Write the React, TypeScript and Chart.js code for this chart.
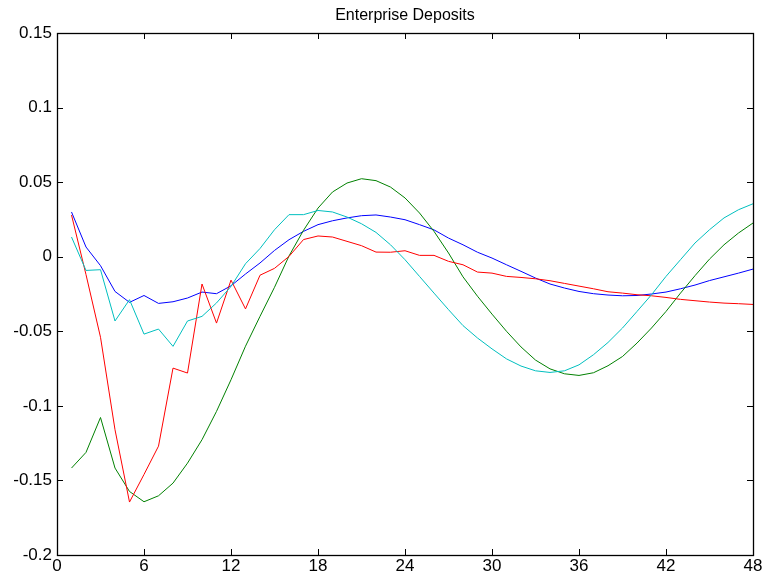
import React, { useEffect, useRef } from "react";
import { Chart, registerables } from "chart.js";

Chart.register(...registerables);

const TITLE = "Enterprise Deposits";

const months = [
  1, 2, 3, 4, 5, 6, 7, 8, 9, 10, 11, 12, 13, 14, 15, 16, 17, 18, 19, 20, 21, 22, 23, 24,
  25, 26, 27, 28, 29, 30, 31, 32, 33, 34, 35, 36, 37, 38, 39, 40, 41, 42, 43, 44, 45, 46, 47, 48,
];

const blueSeries = [
  0.030, 0.0065, -0.006, -0.0233, -0.0306, -0.026, -0.0313, -0.0302, -0.0277, -0.0237, -0.0248, -0.0195,
  -0.0116, -0.0042, 0.0042, 0.0114, 0.017, 0.0215, 0.0241, 0.026, 0.0275, 0.028, 0.0266, 0.0248,
  0.0215, 0.018, 0.0125, 0.008, 0.003, -0.0009, -0.0054, -0.0098, -0.0143, -0.0183, -0.021, -0.0233,
  -0.0248, -0.0257, -0.0262, -0.026, -0.025, -0.0237, -0.0215, -0.019, -0.016, -0.0135, -0.011, -0.0083,
];

const greenSeries = [
  -0.1417, -0.1312, -0.1078, -0.1417, -0.1574, -0.1643, -0.1603, -0.1518, -0.1384, -0.1227, -0.1037, -0.0825,
  -0.06, -0.04, -0.0205, 0.0005, 0.0177, 0.0326, 0.0434, 0.0494, 0.0523, 0.051, 0.0467, 0.0394,
  0.0293, 0.017, 0.0025, -0.0135, -0.0265, -0.0385, -0.05, -0.0605, -0.0693, -0.0752, -0.0785, -0.0796,
  -0.0778, -0.0731, -0.0669, -0.0579, -0.0478, -0.0367, -0.0244, -0.0127, -0.0016, 0.008, 0.0159, 0.0226,
];

const redSeries = [
  0.028, -0.012, -0.054, -0.116, -0.1645, -0.146, -0.127, -0.0747, -0.078, -0.0183, -0.0445, -0.0157,
  -0.035, -0.0124, -0.0078, 0.0002, 0.0115, 0.0139, 0.0132, 0.0103, 0.0074, 0.0031, 0.003, 0.004,
  0.0009, 0.0009, -0.0031, -0.0054, -0.0103, -0.011, -0.0132, -0.0139, -0.0148, -0.0161, -0.0179, -0.0197,
  -0.0215, -0.0235, -0.0244, -0.0255, -0.0262, -0.0273, -0.0286, -0.0295, -0.0304, -0.0311, -0.0315, -0.032,
];

const cyanSeries = [
  0.0132, -0.0092, -0.0087, -0.0431, -0.0288, -0.0519, -0.0485, -0.0601, -0.0431, -0.04, -0.031, -0.0199,
  -0.0047, 0.0055, 0.0181, 0.0282, 0.0282, 0.031, 0.03, 0.0266, 0.0221, 0.0163, 0.008, -0.002,
  -0.0132, -0.0244, -0.0355, -0.0462, -0.0545, -0.0618, -0.0685, -0.0733, -0.0765, -0.0776, -0.0765, -0.0725,
  -0.0657, -0.0575, -0.0478, -0.0367, -0.0255, -0.0132, -0.002, 0.0092, 0.0181, 0.026, 0.0315, 0.0355,
];

const xTicks = [0, 6, 12, 18, 24, 30, 36, 42, 48];
const yTicks = [-0.2, -0.15, -0.1, -0.05, 0, 0.05, 0.1, 0.15];

const FONT = "'Liberation Sans', Arial, sans-serif";

const boxPlugin = {
  id: "matlabBox",
  afterDraw(chart: any) {
    const { ctx, chartArea, scales } = chart;
    const { left, right, top, bottom } = chartArea;
    const tl = 6;
    ctx.save();
    ctx.strokeStyle = "#000";
    ctx.lineWidth = 1;
    ctx.beginPath();
    xTicks.forEach((v) => {
      const x = Math.round(scales.x.getPixelForValue(v)) + 0.5;
      ctx.moveTo(x, bottom);
      ctx.lineTo(x, bottom - tl);
      ctx.moveTo(x, top);
      ctx.lineTo(x, top + tl);
    });
    yTicks.forEach((v) => {
      const y = Math.round(scales.y.getPixelForValue(v)) + 0.5;
      ctx.moveTo(left, y);
      ctx.lineTo(left + tl, y);
      ctx.moveTo(right, y);
      ctx.lineTo(right - tl, y);
    });
    ctx.stroke();
    ctx.lineWidth = 1.3;
    ctx.strokeRect(Math.round(left) + 0.5, Math.round(top) + 0.5, Math.round(right - left), Math.round(bottom - top));
    // title centred over the plot box
    ctx.fillStyle = "#000";
    ctx.font = `16px ${FONT}`;
    ctx.textAlign = "center";
    ctx.textBaseline = "middle";
    ctx.fillText(TITLE, (left + right) / 2, 16);
    ctx.restore();
  },
};

function pts(arr: number[]) {
  return arr.map((v, i) => ({ x: months[i], y: v }));
}

export default function App() {
  const ref = useRef<HTMLCanvasElement | null>(null);
  useEffect(() => {
    const canvas = ref.current;
    if (!canvas) return;
    const mk = (data: number[], color: string, order: number) => ({
      data: pts(data),
      borderColor: color,
      backgroundColor: color,
      borderWidth: 1,
      pointRadius: 0,
      tension: 0,
      fill: false,
      order,
    });
    const chart = new Chart(canvas, {
      type: "line",
      data: {
        datasets: [
          mk(blueSeries, "#0000FF", 4),
          mk(greenSeries, "#008000", 3),
          mk(redSeries, "#FF0000", 2),
          mk(cyanSeries, "#00BFBF", 1),
        ],
      },
      options: {
        animation: false,
        responsive: false,
        maintainAspectRatio: false,
        layout: { padding: { left: 0, right: 13, top: 33, bottom: 0 } },
        plugins: {
          legend: { display: false },
          tooltip: { enabled: false },
          title: { display: false },
        },
        scales: {
          x: {
            type: "linear",
            min: 0,
            max: 48,
            afterFit: (s: any) => {
              s.height = 24;
            },
            afterBuildTicks: (s: any) => {
              s.ticks = xTicks.map((v) => ({ value: v }));
            },
            grid: { display: false, drawTicks: false },
            border: { display: false },
            ticks: {
              color: "#000",
              padding: 1,
              maxRotation: 0,
              autoSkip: false,
              font: { family: FONT, size: 17 },
              callback: (v: any) => String(v),
            },
          },
          y: {
            type: "linear",
            min: -0.2,
            max: 0.15,
            afterFit: (s: any) => {
              s.width = 57;
            },
            afterBuildTicks: (s: any) => {
              s.ticks = yTicks.map((v) => ({ value: v }));
            },
            grid: { display: false, drawTicks: false },
            border: { display: false },
            ticks: {
              color: "#000",
              padding: 5,
              autoSkip: false,
              font: { family: FONT, size: 17 },
              callback: (v: any) => String(Number(Number(v).toFixed(2))),
            },
          },
        },
      },
      plugins: [boxPlugin],
    });
    return () => chart.destroy();
  }, []);
  return (
    <div style={{ position: "fixed", left: 0, top: 0, width: 766, height: 579, background: "#fff" }}>
      <canvas ref={ref} width={766} height={579} style={{ display: "block", width: 766, height: 579 }} />
    </div>
  );
}
